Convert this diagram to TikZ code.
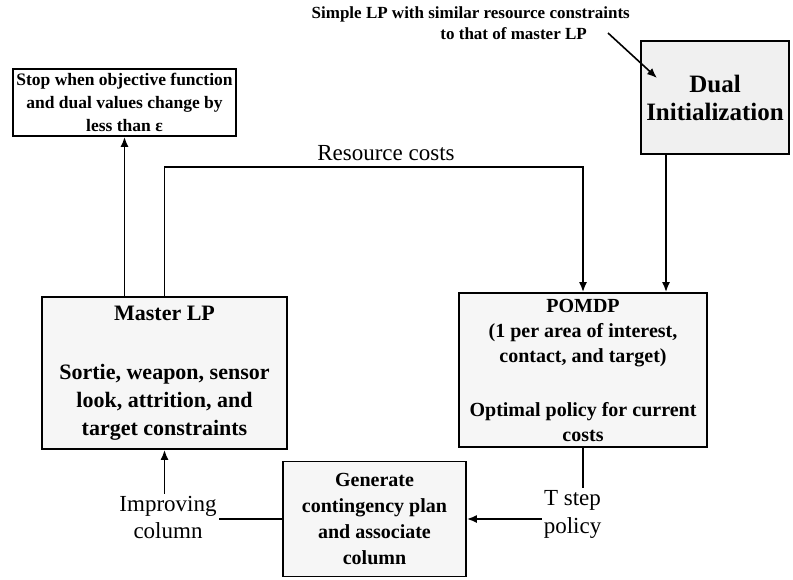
\documentclass[tikz,border=0pt]{standalone}
\usepackage{fontspec}
\setmainfont{Liberation Serif}
\usetikzlibrary{arrows.meta,calc}
\newcommand\myfs[2]{\fontsize{#1}{#2}\selectfont}
\begin{document}
\begin{tikzpicture}[x=1pt,y=-1pt,
  box/.style={draw, line width=1.8pt, inner sep=0pt, align=center, fill=gray!7},
  lbl/.style={align=center, inner sep=2pt},
  ln/.style={line width=1.6pt},
  arr/.style={line width=1.6pt, -{Latex[length=10pt,width=8pt]}}]
\useasboundingbox (0,0) rectangle (793,580);

\node[box, fill=white, minimum width=223pt, minimum height=67pt, font=\bfseries\myfs{17.5}{23}] (stop) at (124.5,102.5)
  {Stop when objective function\\and dual values change by\\less than ε};

\node[box, fill=gray!12, minimum width=148pt, minimum height=113pt, font=\bfseries\myfs{25}{28}] (dual) at (715,97.5)
  {Dual\\Initialization};

\node[box, minimum width=245pt, minimum height=152pt, font=\bfseries\myfs{22}{28}] (master) at (164.5,373)
  {Master LP\\[31pt]Sortie, weapon, sensor\\look, attrition, and\\target constraints};

\node[box, minimum width=248pt, minimum height=154pt, font=\bfseries\myfs{20}{25}] (pomdp) at (583,370)
  {POMDP\\(1 per area of interest,\\contact, and target)\\[29pt]Optimal policy for current\\costs};

\node[box, minimum width=183pt, minimum height=115pt, font=\bfseries\myfs{20}{26}] (gen) at (374.5,519)
  {Generate\\contingency plan\\and associate\\column};

\node[inner sep=0pt, align=right, anchor=east, font=\bfseries\myfs{17}{21}] (simple) at (630,23)
  {Simple LP with similar resource constraints\\to that of master LP\hspace*{43pt}};

\node[lbl, font=\myfs{23}{27}] (res) at (386,153) {Resource costs};
\node[lbl, font=\myfs{23}{27}] (impr) at (168,517) {Improving\\column};
\node[lbl, font=\myfs{23}{28}] (tstep) at (572.5,514) {T step\\policy};

\coordinate (sa) at (608,33);
\coordinate (sb) at (657,78);
\coordinate (rc) at (0,167);
\coordinate (dx) at (666,0);

\draw[arr] (sa) -- (sb);
\draw[arr] (stop.south |- master.north) -- (stop.south);
\draw[arr] (master.north) -- (master.north |- rc) -| (pomdp.north);
\draw[arr] (dx |- dual.south) -- (dx |- pomdp.north);
\draw[arr] (master.south |- impr.north) -- (master.south);
\draw[ln] (gen.west) -- (gen.west -| impr.east);
\draw[ln] (pomdp.south) -- (pomdp.south |- tstep.north);
\draw[arr] (gen.east -| tstep.west) -- (gen.east);
\end{tikzpicture}
\end{document}
